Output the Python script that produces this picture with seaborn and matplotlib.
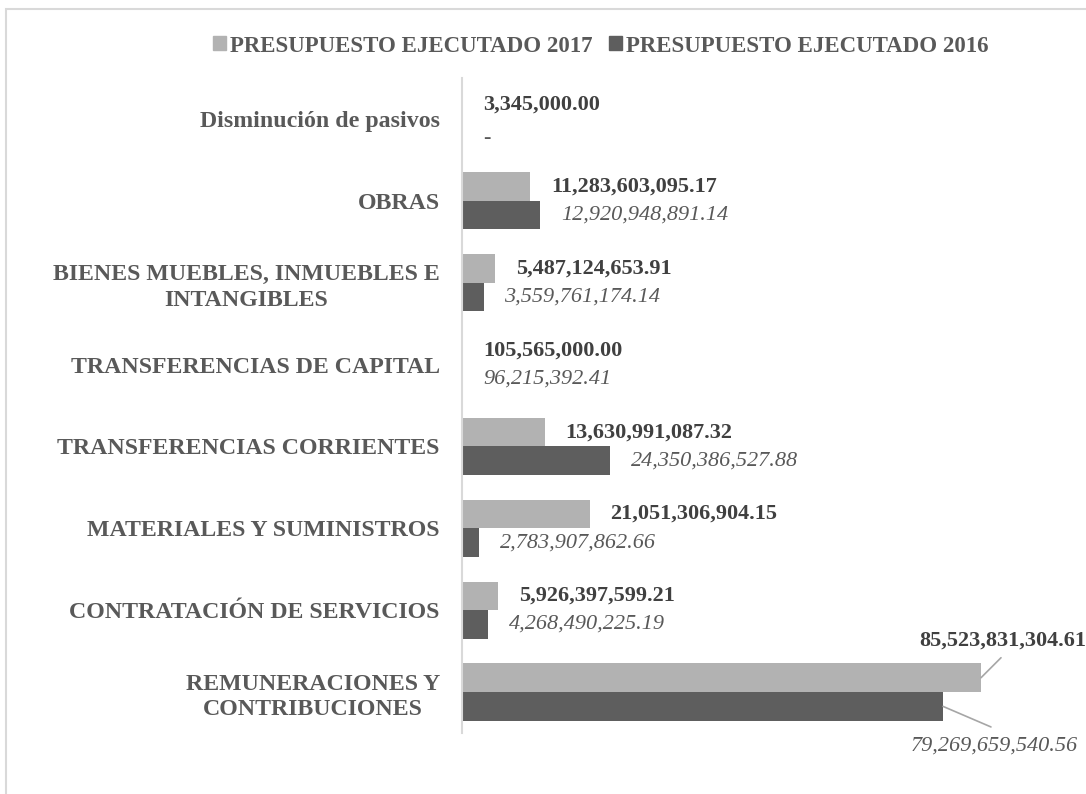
import pandas as pd
import matplotlib.pyplot as plt
import seaborn as sns
from matplotlib.patches import Rectangle

# data
categorias = ['Disminución de pasivos', 'OBRAS',
              'BIENES MUEBLES, INMUEBLES E\nINTANGIBLES',
              'TRANSFERENCIAS DE CAPITAL', 'TRANSFERENCIAS CORRIENTES',
              'MATERIALES Y SUMINISTROS', 'CONTRATACIÓN DE SERVICIOS',
              'REMUNERACIONES Y\nCONTRIBUCIONES']
ejec_2017 = [3345000.00, 11283603095.17, 5487124653.91, 105565000.00,
             13630991087.32, 21051306904.15, 5926397599.21, 85523831304.61]
ejec_2016 = [0.0, 12920948891.14, 3559761174.14, 96215392.41,
             24350386527.88, 2783907862.66, 4268490225.19, 79269659540.56]
serie_2017 = 'PRESUPUESTO EJECUTADO 2017'
serie_2016 = 'PRESUPUESTO EJECUTADO 2016'

df = pd.DataFrame({
    'categoria': categorias * 2,
    'valor': ejec_2017 + ejec_2016,
    'serie': [serie_2017] * len(categorias) + [serie_2016] * len(categorias),
})

sns.set_style('white')
plt.rcParams['font.family'] = ['Liberation Serif', 'DejaVu Serif']

c17 = '#B2B2B2'
c16 = '#5E5E5E'
txt = '#595959'
lbl = '#404040'

fig = plt.figure(figsize=(10.86, 7.94), dpi=100)
ax = fig.add_axes([462 / 1086, 1 - 733 / 794, (1060 - 462) / 1086, (733 - 78) / 794])

sns.barplot(data=df, y='categoria', x='valor', hue='serie',
            hue_order=[serie_2017, serie_2016], palette=[c17, c16],
            orient='h', width=0.7, linewidth=0, legend=False, ax=ax)

ax.set_xlim(0, 85523831304.61 * (1060 - 462) / 519)
ax.set_xlabel('')
ax.set_ylabel('')
ax.set_xticks([])
for s in ['top', 'right', 'bottom']:
    ax.spines[s].set_visible(False)
ax.spines['left'].set_color('#D9D9D9')
ax.spines['left'].set_linewidth(1.5)
ax.tick_params(axis='y', length=0, pad=16)
for t in ax.get_yticklabels():
    t.set_fontsize(17.2)
    t.set_fontweight('bold')
    t.set_color(txt)
    t.set_multialignment('center')
    t.set_linespacing(1.28)

def fmt(v):
    return '-' if v == 0 else f'{v:,.2f}'

last = len(categorias) - 1
for k, (cont, vals) in enumerate(zip(ax.containers, [ejec_2017, ejec_2016])):
    for i, (bar, v) in enumerate(zip(cont, vals)):
        y = bar.get_y() + bar.get_height() / 2
        w = bar.get_width()
        style = dict(fontsize=16, color=lbl if k == 0 else txt,
                     fontweight='bold' if k == 0 else 'normal',
                     fontstyle='normal' if k == 0 else 'italic')
        if i == last:
            # leader lines for the long bars
            if k == 0:
                tx, ty, lx, ly = 15.8, 26.6, 14.4, 14.4
            else:
                tx, ty, lx, ly = 37, -28.4, 34.5, -14.8
            ax.annotate('', xy=(w, y), xytext=(lx, ly), textcoords='offset points',
                        arrowprops=dict(arrowstyle='-', color='#A6A6A6', lw=1.2,
                                        shrinkA=0, shrinkB=0))
            ax.annotate(fmt(v), xy=(w, y), xytext=(tx, ty), textcoords='offset points',
                        ha='center', va='center', annotation_clip=False, **style)
        else:
            dy = -4 if v == 0 else 0
            ax.annotate(fmt(v), xy=(w, y), xytext=(15, dy), textcoords='offset points',
                        ha='left', va='center', **style)

handles = [Rectangle((0, 0), 1, 1, color=c17), Rectangle((0, 0), 1, 1, color=c16)]
leg = fig.legend(handles, [serie_2017, serie_2016], loc='center',
                 bbox_to_anchor=(601 / 1086, 1 - 46 / 794), ncol=2, frameon=False,
                 handlelength=0.55, handleheight=0.55, handletextpad=0.2,
                 columnspacing=0.7, prop={'size': 16.5, 'weight': 'bold'})
for t in leg.get_texts():
    t.set_color(txt)

fig.patches.append(Rectangle((6 / 1086, -0.05), 1.1, 1 - 9 / 794 + 0.05,
                             transform=fig.transFigure, fill=False,
                             edgecolor='#D9D9D9', lw=1.5))

fig.savefig('out.png', dpi=100)
